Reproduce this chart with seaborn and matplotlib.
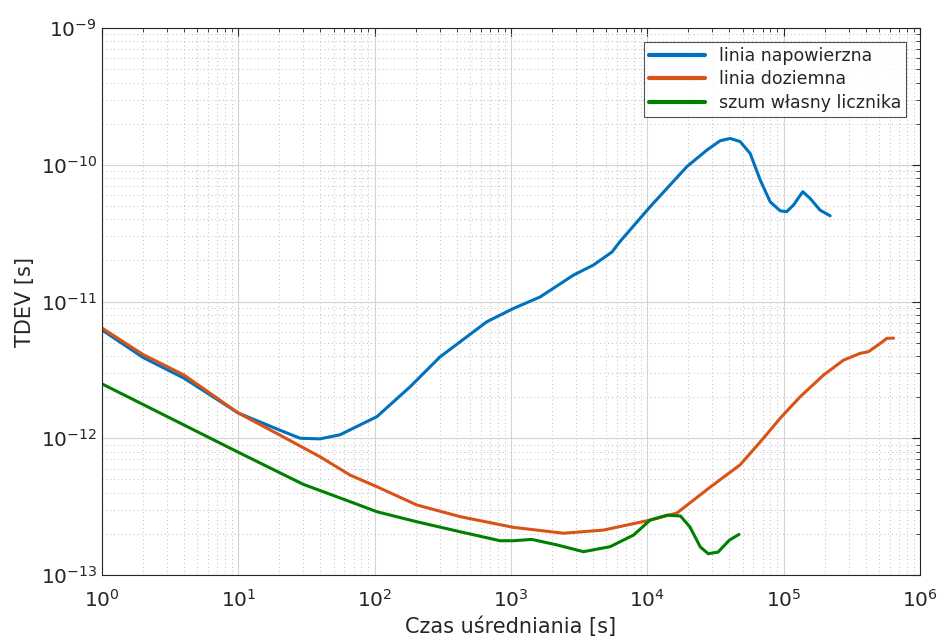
import numpy as np
import pandas as pd
import matplotlib
matplotlib.use('Agg')
import matplotlib.pyplot as plt
import matplotlib.ticker as mticker
import seaborn as sns

# values (log-log)
tau_nap = [1, 2, 4, 10, 20, 28.4, 39.7, 55.7, 104, 182, 302, 474, 664, 1042, 1634, 2870, 4025,
           5495, 6310, 10470, 19500, 27300, 34200, 40500, 47900, 56800, 67300, 79600, 94200,
           105000, 118000, 138000, 156000, 185000, 219000]
tdev_nap = [6.2e-12, 3.9e-12, 2.75e-12, 1.53e-12, 1.15e-12, 1.0e-12, 9.9e-13, 1.06e-12, 1.44e-12,
            2.38e-12, 3.94e-12, 5.52e-12, 7.11e-12, 8.9e-12, 1.08e-11, 1.56e-11, 1.85e-11,
            2.3e-11, 2.75e-11, 4.93e-11, 9.7e-11, 1.28e-10, 1.5e-10, 1.56e-10, 1.48e-10, 1.21e-10,
            7.74e-11, 5.37e-11, 4.61e-11, 4.54e-11, 5.08e-11, 6.36e-11, 5.69e-11, 4.66e-11, 4.24e-11]

tau_doz = [1, 2, 4, 10, 20, 40, 66, 104, 204, 424, 1042, 2426, 4770, 10470, 16500,
           29000, 48000, 71000, 94200, 132000, 196000, 275000, 364000, 419000, 511000, 572000, 640000]
tdev_doz = [6.4e-12, 4.1e-12, 2.9e-12, 1.53e-12, 1.06e-12, 7.3e-13, 5.38e-13, 4.42e-13, 3.25e-13,
            2.67e-13, 2.23e-13, 2.02e-13, 2.13e-13, 2.52e-13, 2.84e-13,
            4.4e-13, 6.4e-13, 1.0e-12, 1.4e-12, 2.01e-12, 2.9e-12, 3.73e-12, 4.18e-12, 4.3e-12,
            4.94e-12, 5.38e-12, 5.4e-12]

tau_szum = [1, 10, 30, 66, 104, 204, 424, 832, 1042, 1420, 2170, 3400, 5330, 7940, 10470,
            14000, 17500, 20500, 24500, 28000, 33000, 40000, 47000]
tdev_szum = [2.5e-12, 7.9e-13, 4.6e-13, 3.44e-13, 2.9e-13, 2.45e-13, 2.07e-13, 1.78e-13, 1.78e-13,
             1.82e-13, 1.66e-13, 1.48e-13, 1.61e-13, 1.96e-13, 2.52e-13,
             2.74e-13, 2.7e-13, 2.25e-13, 1.6e-13, 1.43e-13, 1.47e-13, 1.8e-13, 1.98e-13]

labels = ['linia napowierzna', 'linia doziemna', 'szum własny licznika']
colors = ['#0072BD', '#D95319', '#008000']

df = pd.concat([
    pd.DataFrame({'tau': tau_nap, 'tdev': tdev_nap, 'seria': labels[0]}),
    pd.DataFrame({'tau': tau_doz, 'tdev': tdev_doz, 'seria': labels[1]}),
    pd.DataFrame({'tau': tau_szum, 'tdev': tdev_szum, 'seria': labels[2]}),
])

sns.set_style('white')
plt.rcParams['font.family'] = ['DejaVu Sans']

fig = plt.figure(figsize=(9.44, 6.39), dpi=100)
ax = fig.add_axes([0.108, 0.1002, 0.8666, 0.8558])

sns.lineplot(data=df, x='tau', y='tdev', hue='seria', palette=colors, linewidth=2.2,
             sort=False, ax=ax)

ax.set_xscale('log')
ax.set_yscale('log')
ax.set_xlim(1, 1e6)
ax.set_ylim(1e-13, 1e-9)
ax.xaxis.set_minor_formatter(mticker.NullFormatter())
ax.yaxis.set_minor_formatter(mticker.NullFormatter())

ax.grid(True, which='major', color='#d4d4d4', linestyle='-', linewidth=0.8)
ax.grid(True, which='minor', color='#bdbdbd', linestyle=(0, (1, 3)), linewidth=0.7)
ax.set_axisbelow(True)

ax.tick_params(which='both', direction='in', top=True, right=True, colors='#262626',
               labelsize=14.5, labelcolor='#262626')
ax.tick_params(which='major', length=6)
ax.tick_params(which='minor', length=3)
ax.tick_params(axis='x', pad=10)
for s in ax.spines.values():
    s.set_color('#262626')
    s.set_linewidth(0.8)

ax.set_xlabel('Czas uśredniania [s]', fontsize=15, color='#262626', labelpad=4)
ax.set_ylabel('TDEV [s]', fontsize=15, color='#262626')

leg = ax.legend(loc='upper right', fontsize=12.5, frameon=True, fancybox=False,
                edgecolor='#262626', borderaxespad=0.8, handlelength=3.2,
                labelspacing=0.3, borderpad=0.3)
leg.get_frame().set_linewidth(0.8)
for line in leg.get_lines():
    line.set_linewidth(3)

fig.savefig('out.png', dpi=100)
